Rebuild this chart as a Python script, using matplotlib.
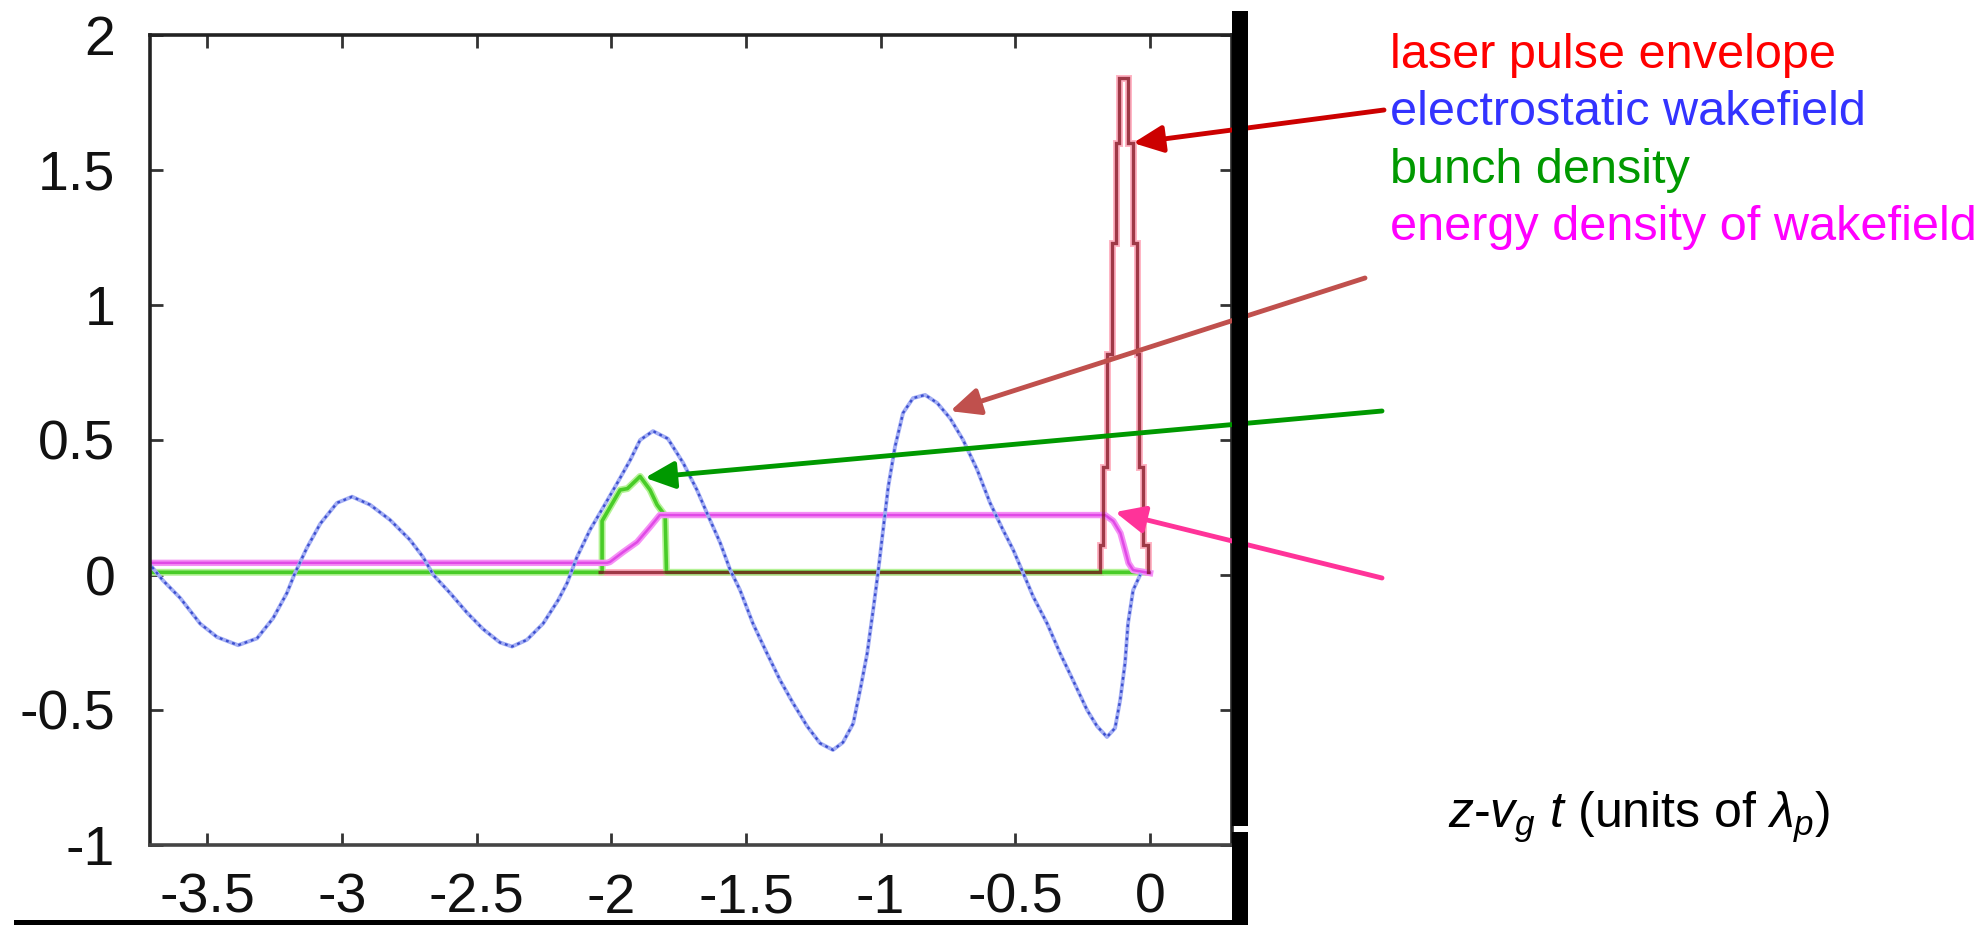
import numpy as np
import matplotlib
matplotlib.use("Agg")
import matplotlib.pyplot as plt
from matplotlib.patches import Rectangle

plt.rcParams['font.family'] = ['Liberation Sans', 'DejaVu Sans']
plt.rcParams['axes.unicode_minus'] = False
plt.rcParams['mathtext.fontset'] = 'custom'
plt.rcParams['mathtext.rm'] = 'Liberation Sans'
plt.rcParams['mathtext.it'] = 'Liberation Sans:italic'

# electrostatic wakefield
wake_x = [-3.705, -3.664, -3.60, -3.526, -3.463, -3.385, -3.315, -3.255, -3.204, -3.174,
          -3.13, -3.08, -3.018, -2.962, -2.895, -2.821, -2.747, -2.699, -2.66, -2.598,
          -2.535, -2.476, -2.413, -2.368, -2.313, -2.253, -2.197, -2.164, -2.127, -2.079,
          -2.03, -1.978, -1.93, -1.893, -1.845, -1.79, -1.733, -1.682, -1.645, -1.596,
          -1.559, -1.522, -1.474, -1.422, -1.373, -1.325, -1.273, -1.225, -1.177, -1.14,
          -1.102, -1.076, -1.05, -1.028, -1.01, -0.991, -0.972, -0.947, -0.917, -0.88,
          -0.835, -0.79, -0.742, -0.694, -0.642, -0.594, -0.546, -0.508, -0.471, -0.434,
          -0.382, -0.334, -0.286, -0.234, -0.197, -0.16, -0.13, -0.111, -0.093, -0.082,
          -0.063, -0.037]
wake_y = [0.03, -0.02, -0.085, -0.18, -0.23, -0.26, -0.235, -0.16, -0.067, 0.007,
          0.10, 0.19, 0.267, 0.29, 0.26, 0.204, 0.13, 0.067, 0.0, -0.067,
          -0.14, -0.20, -0.25, -0.265, -0.24, -0.18, -0.093, -0.03, 0.067, 0.167,
          0.25, 0.34, 0.425, 0.50, 0.533, 0.505, 0.415, 0.315, 0.23, 0.12,
          0.02, -0.056, -0.18, -0.29, -0.39, -0.475, -0.56, -0.623, -0.648, -0.62,
          -0.55, -0.425, -0.29, -0.13, 0.007, 0.167, 0.326, 0.474, 0.60, 0.655,
          0.667, 0.637, 0.58, 0.50, 0.39, 0.267, 0.167, 0.093, 0.007, -0.08,
          -0.18, -0.29, -0.39, -0.50, -0.56, -0.60, -0.567, -0.463, -0.326, -0.18,
          -0.056, 0.0]

# bunch density
bunch_x = [-3.71, -2.034, -2.034, -2.005, -1.967, -1.94, -1.893, -1.856, -1.83, -1.80, -1.795, -0.03]
bunch_y = [0.01, 0.01, 0.20, 0.25, 0.315, 0.32, 0.365, 0.315, 0.26, 0.22, 0.01, 0.01]

# energy density of wakefield
energy_x = [-3.71, -2.016, -2.005, -1.956, -1.904, -1.856, -1.82, -0.167, -0.137, -0.11, -0.093, -0.08, -0.063, 0.0]
energy_y = [0.045, 0.045, 0.048, 0.085, 0.122, 0.178, 0.222, 0.222, 0.20, 0.155, 0.093, 0.044, 0.018, 0.007]

# laser pulse envelope (stepped)
laser_edges = [-2.05, -0.186, -0.174, -0.160, -0.141, -0.126, -0.115, -0.082, -0.063,
               -0.048, -0.041, -0.026, -0.007, 0.0]
laser_levels = [0.01, 0.11, 0.40, 0.82, 1.23, 1.60, 1.84, 1.60, 1.23, 0.82, 0.40, 0.11, 0.01]

xticks = [-3.5, -3, -2.5, -2, -1.5, -1, -0.5, 0]
yticks = [-1, -0.5, 0, 0.5, 1, 1.5, 2]

legend_labels = ['laser pulse envelope', 'electrostatic wakefield', 'bunch density',
                 'energy density of wakefield']
legend_colors = ['#ff0000', '#3333ff', '#009900', '#ff00ff']

fig = plt.figure(figsize=(19.87, 9.25), dpi=100)
ax = fig.add_axes([150 / 1987, 1 - 845 / 925, 1082 / 1987, 810 / 925])

# curves
ax.stairs(laser_levels, laser_edges, baseline=None, color='#ffb3c3', lw=5.0, zorder=1.5)
ax.plot(bunch_x, bunch_y, color='#b4f296', lw=5.0, zorder=2)
ax.plot(bunch_x, bunch_y, color='#48cc28', lw=2.6, zorder=2.05)
ax.plot(energy_x, energy_y, color='#f590f5', lw=4.6, zorder=2.1)
ax.plot(energy_x, energy_y, color='#e04ae6', lw=1.8, zorder=2.15)
ax.stairs(laser_levels, laser_edges, baseline=None, color='#7a0a18', lw=2.4, alpha=0.72,
          zorder=2.2)
ax.plot(wake_x, wake_y, color='#a3aef4', lw=2.8, zorder=2.3)
ax.plot(wake_x, wake_y, color='#3c4fcf', lw=1.7, dashes=(1.2, 1.6), zorder=2.35)

ax.set_xlim(-3.712, 0.304)
ax.set_ylim(-1, 2)
ax.set_xticks(xticks)
ax.set_xticklabels([f'{v:g}' for v in xticks])
ax.set_yticks(yticks)
ax.set_yticklabels([f'{v:g}' for v in yticks])
ax.tick_params(direction='in', top=True, right=True, length=9, width=2,
               color='#333333', labelsize=40, labelcolor='#111111')
ax.tick_params(axis='y', pad=25)
ax.tick_params(axis='x', pad=20)
for side in ['left', 'top', 'bottom', 'right']:
    ax.spines[side].set_linewidth(2.6)
    ax.spines[side].set_color('#222222')
ax.spines['bottom'].set_color('#444444')

# frame decorations: thick bar on the right and line at the bottom
fig.add_artist(Rectangle((1232 / 1987, 1 - 826 / 925), 16 / 1987, 815 / 925,
                         transform=fig.transFigure, color='black', lw=0))
fig.add_artist(Rectangle((1232 / 1987, 0), 16 / 1987, 1 - 832 / 925,
                         transform=fig.transFigure, color='black', lw=0))
fig.add_artist(Rectangle((14 / 1987, 0), 1234 / 1987, 5 / 925,
                         transform=fig.transFigure, color='black', lw=0))

# legend text
for i, (lab, col) in enumerate(zip(legend_labels, legend_colors)):
    fig.text(1390 / 1987, 1 - (68 + 57.3 * i) / 925, lab, color=col, fontsize=35,
             ha='left', va='baseline')

# arrows
arrows = [
    ((-0.063, 1.60), (1384 / 1987, 1 - 110 / 925), '#cc0000'),
    ((-0.742, 0.607), (1365 / 1987, 1 - 278 / 925), '#c0504d'),
    ((-1.875, 0.36), (1382 / 1987, 1 - 411 / 925), '#009900'),
    ((-0.13, 0.233), (1382 / 1987, 1 - 578 / 925), '#ff3399'),
]
for tip, tail, col in arrows:
    ax.annotate('', xy=tip, xycoords='data', xytext=tail, textcoords='figure fraction',
                annotation_clip=False,
                arrowprops=dict(arrowstyle='-|>,head_length=1.2,head_width=0.55',
                                mutation_scale=15, lw=3.5, color=col,
                                shrinkA=0, shrinkB=0))

fig.text(1448 / 1987, 1 - 828 / 925, r'$z$-$v_g$ $t$ (units of $\lambda_p$)',
         fontsize=36, ha='left', va='baseline', color='black')

fig.savefig('out.png', dpi=100)
